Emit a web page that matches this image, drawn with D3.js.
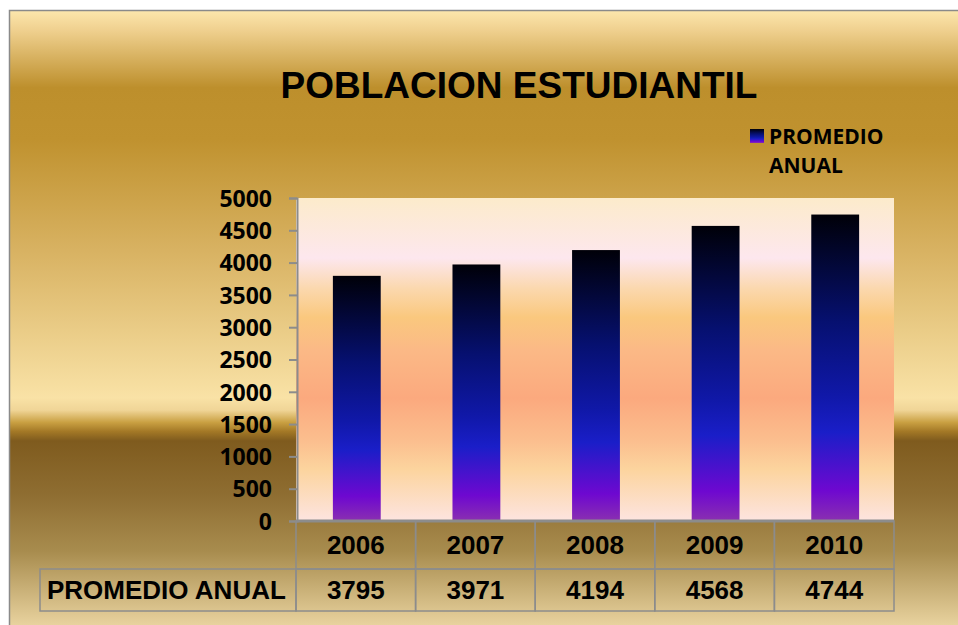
<!DOCTYPE html>
<html lang="es">
<head>
    <meta charset="UTF-8">
    <title>Poblacion estudiantil</title>
    <script src="https://d3js.org/d3.v7.min.js"></script>
    <style>
        body { margin: 0; background: #fff; }
        svg { display: block; }
        .ylab text { font-family: "Open Sans", sans-serif; font-weight: bold; font-size: 23px; fill: #000; }
        .tbl { font-family: "Liberation Sans", Arial, sans-serif; font-weight: bold; font-size: 26px; fill: #000; }
    </style>
</head>
<body>
<script>
    var years = ['2006', '2007', '2008', '2009', '2010']
    var promedio = [3795, 3971, 4194, 4568, 4744]
    var yTicks = [0, 500, 1000, 1500, 2000, 2500, 3000, 3500, 4000, 4500, 5000]
    var seriesName = 'PROMEDIO ANUAL'

    var w = 958, h = 625
    var plot = {left: 296, right: 894, top: 198, bottom: 521}
    var rowBottom = [569, 611]

    var svg = d3.select('body').append('svg')
        .attr('width', w).attr('height', h)

    var defs = svg.append('defs')

    function grad(id, stops, user, y1, y2) {
        var g = defs.append('linearGradient').attr('id', id)
            .attr('x1', 0).attr('x2', 0)
        if (user) {
            g.attr('gradientUnits', 'userSpaceOnUse').attr('y1', y1).attr('y2', y2)
        } else {
            g.attr('y1', 0).attr('y2', 1)
        }
        stops.forEach(function(s) {
            g.append('stop').attr('offset', s[0]).attr('stop-color', s[1])
        })
    }

    // outer gold background
    grad('bgGrad', [
        [0, '#FCE6AC'], [0.03, '#F0D190'], [0.125, '#BD8F2C'], [0.21, '#C0922F'],
        [0.39, '#D8B262'], [0.63, '#F9E2A6'], [0.65, '#F0D597'], [0.67, '#C9A042'],
        [0.685, '#A37826'], [0.7, '#7F5B1E'], [0.79, '#8F6E32'], [0.88, '#A88C4E'],
        [1, '#E8D29E']
    ], true, 11, 625)

    // plot area
    grad('plotGrad', [
        [0, '#FCEBCB'], [0.186, '#FDE7EE'], [0.28, '#FBD8AE'], [0.37, '#FAC87E'],
        [0.47, '#FBB986'], [0.62, '#FBA97E'], [0.75, '#FBBE8E'], [0.84, '#FCD49E'],
        [1, '#FDE4E0']
    ], true, plot.top, plot.bottom)

    // bars
    grad('barGrad', [
        [0, '#000008'], [0.35, '#061070'], [0.59, '#1018A8'], [0.71, '#1A1EC8'],
        [0.9, '#6E08D0'], [1, '#8A30B0']
    ], false)

    svg.append('rect')
        .attr('x', 9.5).attr('y', 10.5)
        .attr('width', w + 10).attr('height', h + 10)
        .attr('fill', 'url(#bgGrad)')
        .attr('stroke', '#8a8a8a').attr('stroke-width', 1.5)

    svg.append('rect')
        .attr('x', plot.left).attr('y', plot.top)
        .attr('width', plot.right - plot.left).attr('height', plot.bottom - plot.top)
        .attr('fill', 'url(#plotGrad)')

    var x = d3.scaleBand().domain(years).range([plot.left, plot.right]).paddingInner(0.6).paddingOuter(0.3)
    var xCell = d3.scaleBand().domain(years).range([plot.left, plot.right])
    var y = d3.scaleLinear().domain([0, 5000]).range([plot.bottom, plot.top])

    svg.selectAll('.bar')
        .data(promedio)
        .enter().append('rect')
        .attr('class', 'bar')
        .attr('x', (d, i) => x(years[i]) + 1)
        .attr('y', d => y(d))
        .attr('width', x.bandwidth())
        .attr('height', d => y(0) - y(d))
        .attr('fill', 'url(#barGrad)')

    // y axis
    var yAxis = d3.axisLeft(y).tickValues(yTicks).tickSize(8).tickPadding(17).tickFormat(d3.format('d'))
    var ya = svg.append('g').attr('class', 'ylab')
        .attr('transform', 'translate(' + (plot.left + 1) + ',0)')
        .call(yAxis)
    ya.select('.domain').attr('stroke', '#8c8c8c').attr('stroke-width', 2)
    ya.selectAll('.tick line').attr('stroke', '#8c8c8c').attr('stroke-width', 2)
    ya.selectAll('.tick text').attr('dy', '0.36em')

    // title
    svg.append('text')
        .attr('x', 519).attr('y', 98)
        .attr('text-anchor', 'middle')
        .style('font-family', '"Liberation Sans", Arial, sans-serif')
        .style('font-weight', 'bold').style('font-size', '37px')
        .text('POBLACION ESTUDIANTIL')

    // legend
    svg.append('rect').attr('x', 750).attr('y', 129).attr('width', 14).attr('height', 14)
        .attr('fill', 'url(#barGrad)')
    var lg = svg.append('text')
        .style('font-family', '"Open Sans", sans-serif')
        .style('font-weight', 'bold').style('font-size', '21px')
    lg.append('tspan').attr('x', 769).attr('y', 144).text('PROMEDIO')
    lg.append('tspan').attr('x', 769).attr('y', 173).text('ANUAL')

    // data table
    var lineCol = '#8c8c8c'
    var tbl = svg.append('g')
    xCell.domain().forEach(function(yr) {
        tbl.append('rect')
            .attr('x', xCell(yr)).attr('y', plot.bottom)
            .attr('width', xCell.bandwidth()).attr('height', rowBottom[0] - plot.bottom)
            .attr('fill', 'none').attr('stroke', lineCol).attr('stroke-width', 1.5)
        tbl.append('rect')
            .attr('x', xCell(yr)).attr('y', rowBottom[0])
            .attr('width', xCell.bandwidth()).attr('height', rowBottom[1] - rowBottom[0])
            .attr('fill', 'none').attr('stroke', lineCol).attr('stroke-width', 1.5)
    })
    tbl.append('rect')
        .attr('x', 40).attr('y', rowBottom[0])
        .attr('width', plot.left - 40).attr('height', rowBottom[1] - rowBottom[0])
        .attr('fill', 'none').attr('stroke', lineCol).attr('stroke-width', 1.5)

    // baseline
    svg.append('line')
        .attr('x1', plot.left).attr('x2', plot.right)
        .attr('y1', y(0)).attr('y2', y(0))
        .attr('stroke', lineCol).attr('stroke-width', 3)

    tbl.selectAll('.yr').data(years).enter().append('text')
        .attr('class', 'tbl')
        .attr('x', d => xCell(d) + xCell.bandwidth() / 2)
        .attr('y', 554)
        .attr('text-anchor', 'middle')
        .text(d => d)

    tbl.selectAll('.val').data(promedio).enter().append('text')
        .attr('class', 'tbl')
        .attr('x', (d, i) => xCell(years[i]) + xCell.bandwidth() / 2)
        .attr('y', 599)
        .attr('text-anchor', 'middle')
        .text(d => d)

    tbl.append('text').attr('class', 'tbl')
        .attr('x', 47).attr('y', 599)
        .text(seriesName)
</script>
</body>
</html>
